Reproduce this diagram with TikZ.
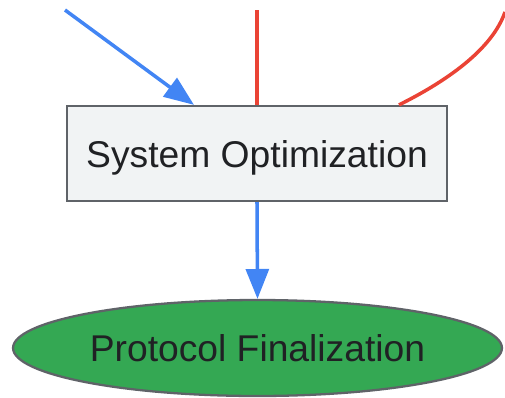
\documentclass[tikz,border=0pt]{standalone}
\usepackage{fontspec}
\setmainfont{Liberation Sans}
\usetikzlibrary{arrows.meta,shapes.geometric}
\definecolor{gblue}{HTML}{4285F4}
\definecolor{gred}{HTML}{EA4335}
\definecolor{ggreen}{HTML}{34A853}
\definecolor{gborder}{HTML}{5F6368}
\definecolor{gfill}{HTML}{F1F3F4}
\definecolor{gtext}{HTML}{202124}
\tikzset{
  stepbox/.style={draw=gborder,fill=gfill,line width=1.3pt,minimum width=7.6cm,
    minimum height=1.9cm,inner sep=0pt,text depth=0pt,text=gtext,font=\fontsize{21.2}{25}\selectfont},
  endbox/.style={ellipse,draw=gborder,fill=ggreen,line width=1.3pt,minimum width=9.78cm,
    minimum height=1.92cm,inner sep=0pt,text depth=0pt,text=gtext,font=\fontsize{21.2}{25}\selectfont},
  flow/.style={gblue,line width=2pt,-{Triangle[length=17pt,width=13pt]}},
  back/.style={gred,line width=2pt}
}

\begin{document}
\begin{tikzpicture}[x=0.02cm,y=-0.02cm]
      \useasboundingbox (0,0) rectangle (505,397);
      \node[stepbox] (opt) at (257,153.5) {System Optimization};
      \node[endbox] (fin) at (257.5,348) {Protocol Finalization};
      \coordinate (inflow) at (65,10);
      \coordinate (loopa) at (257,10);
      \coordinate (loopb) at (505,12);
      \draw[flow] (inflow) -- (opt.north west -| 194,0);
      \draw[back] (loopa) -- (opt.north);
      \draw[back] (opt.north -| 399,0) .. controls (445,82) and (492,50) .. (loopb);
      \draw[flow] (opt.south) -- (fin.north);
    \end{tikzpicture}
\end{document}
